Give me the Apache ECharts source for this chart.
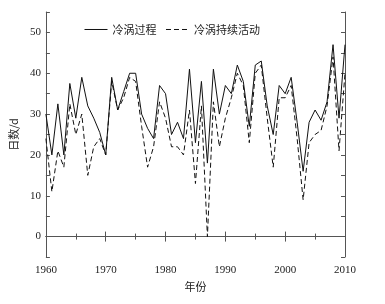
<!DOCTYPE html>
<html>
<head>
<meta charset="utf-8">
<script src="https://cdn.jsdelivr.net/npm/echarts@6/dist/echarts.min.js"></script>
<style>
  html, body { margin: 0; padding: 0; background: #fff; }
  #chart { width: 385px; height: 304px; }
</style>
</head>
<body>
<div id="chart"></div>
<script>
var years = [1960, 1961, 1962, 1963, 1964, 1965, 1966, 1967, 1968, 1969,
  1970, 1971, 1972, 1973, 1974, 1975, 1976, 1977, 1978, 1979,
  1980, 1981, 1982, 1983, 1984, 1985, 1986, 1987, 1988, 1989,
  1990, 1991, 1992, 1993, 1994, 1995, 1996, 1997, 1998, 1999,
  2000, 2001, 2002, 2003, 2004, 2005, 2006, 2007, 2008, 2009, 2010];

// 冷涡过程
var processDays = [30, 20, 32.5, 20, 37.5, 29, 39, 32, 29, 25.5,
  20, 39, 31, 35.5, 40, 40, 30, 26.5, 24, 37,
  35, 25, 28, 24, 41, 23, 38, 18, 41, 30,
  37, 35, 42, 38, 27, 42, 43, 32, 25, 37,
  35, 39, 28, 16, 28, 31, 28.5, 33, 47, 29, 47];

// 冷涡持续活动
var activeDays = [24, 11, 21, 17, 32.5, 25, 30, 15, 22, 24,
  20, 38, 31, 34, 39, 38, 27, 17, 22, 33,
  29, 22, 22, 20, 31, 13, 32, 0, 33, 22,
  29, 34, 40, 37, 23, 40, 42, 29, 17, 34,
  34, 37, 24, 9, 23, 25, 26, 32, 44, 21, 40];

var seriesNames = ['冷涡过程', '冷涡持续活动'];

function pairs(vals) {
  return years.map(function (y, i) { return [y, vals[i]]; });
}

var chartDom = document.getElementById('chart');
var myChart = echarts.init(chartDom);

var axisColor = '#555';
var textColor = '#222';
var serif = 'Liberation Serif';
var cjk = 'Noto Sans CJK SC';

var option = {
  animation: false,
  backgroundColor: '#fff',
  grid: { left: 38, right: 40, top: 12, bottom: 47 },
  legend: {
    left: 79,
    top: 19,
    itemWidth: 23,
    itemHeight: 10,
    itemGap: 9,
    itemStyle: { opacity: 0 },
    lineStyle: { width: 1 },
    textStyle: { fontFamily: cjk, fontSize: 11, color: textColor },
    data: seriesNames
  },
  xAxis: [
    {
      type: 'value',
      min: 1960,
      max: 2010,
      interval: 10,
      name: '年份',
      nameLocation: 'middle',
      nameGap: 22,
      nameTextStyle: { fontFamily: cjk, fontSize: 11, color: textColor },
      axisLine: { lineStyle: { color: axisColor, width: 1 } },
      axisTick: { inside: true, length: 5, lineStyle: { color: axisColor } },
      minorTick: { show: true, splitNumber: 2, length: 3, lineStyle: { color: axisColor } },
      axisLabel: {
        margin: 8, fontFamily: serif, fontSize: 11, color: textColor,
        formatter: function (v) { return String(v); }
      },
      splitLine: { show: false }
    },
    {
      type: 'value',
      position: 'top',
      min: 1960,
      max: 2010,
      interval: 10,
      axisLine: { lineStyle: { color: axisColor, width: 1 } },
      axisTick: { inside: true, length: 5, lineStyle: { color: axisColor } },
      minorTick: { show: true, splitNumber: 2, length: 3, lineStyle: { color: axisColor } },
      axisLabel: { show: false },
      splitLine: { show: false }
    }
  ],
  yAxis: [
    {
      type: 'value',
      min: -5,
      max: 55,
      interval: 5,
      name: '日数/d',
      nameLocation: 'middle',
      nameGap: 21,
      nameTextStyle: { fontFamily: cjk, fontSize: 11, color: textColor },
      axisLine: { show: true, lineStyle: { color: axisColor, width: 1 } },
      axisTick: { show: true, inside: true, length: 4, lineStyle: { color: axisColor } },
      axisLabel: {
        margin: 5,
        fontFamily: serif,
        fontSize: 11,
        color: textColor,
        formatter: function (v) {
          return (v % 10 === 0 && v >= 0 && v <= 50) ? String(v) : '';
        }
      },
      splitLine: { show: false }
    },
    {
      type: 'value',
      position: 'right',
      min: -5,
      max: 55,
      interval: 5,
      axisLine: { show: true, lineStyle: { color: axisColor, width: 1 } },
      axisTick: { show: true, inside: true, length: 4, lineStyle: { color: axisColor } },
      axisLabel: { show: false },
      splitLine: { show: false }
    }
  ],
  series: [
    {
      name: seriesNames[0],
      type: 'line',
      data: pairs(processDays),
      symbol: 'none',
      lineStyle: { color: '#111', width: 1 },
      itemStyle: { color: '#111' }
    },
    {
      name: seriesNames[1],
      type: 'line',
      data: pairs(activeDays),
      symbol: 'none',
      lineStyle: { color: '#111', width: 1, type: [5, 3] },
      itemStyle: { color: '#111' }
    }
  ]
};

myChart.setOption(option);
window.addEventListener('resize', myChart.resize);
</script>
</body>
</html>
